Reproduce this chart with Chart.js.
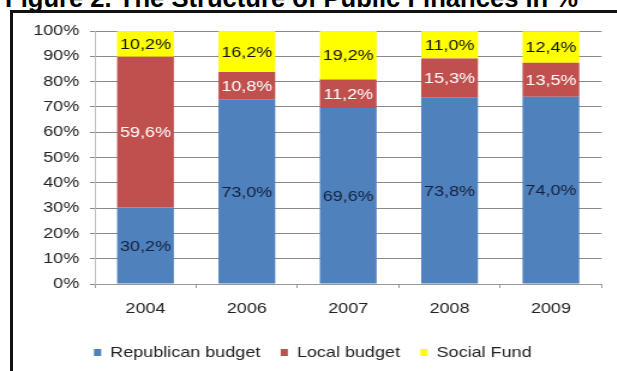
<!DOCTYPE html>
<html>
<head>
<meta charset="utf-8">
<script src="https://cdn.jsdelivr.net/npm/chart.js@4/dist/chart.umd.min.js"></script>
<style>
  html, body { margin: 0; padding: 0; background: #fff; }
  #wrap { position: relative; width: 617px; height: 371px; overflow: hidden; }
  #title {
    position: absolute; left: 5px; top: -14px; white-space: nowrap;
    font: bold 25.6px/25px "Liberation Sans", Arial, sans-serif; color: #000;
  }
  #frame {
    position: absolute; left: 10px; top: 10px; width: 700px; height: 400px;
    border-left: 3px solid #111; border-top: 3px solid #111;
  }
  /* the source picture is stretched sideways, so the chart is drawn narrow and widened */
  canvas { position: absolute; left: 0; top: 0; transform: scale(1.2, 1); transform-origin: 0 0; }
</style>
</head>
<body>
<div id="wrap">
  <div id="title">Figure 2. The Structure of Public Finances in %</div>
  <div id="frame"></div>
  <canvas id="chart" width="514" height="371"></canvas>
</div>
<script>
// ===== data =====
const years = ["2004", "2006", "2007", "2008", "2009"];
const republican = [30.2, 73.0, 69.6, 73.8, 74.0];
const local = [59.6, 10.8, 11.2, 15.3, 13.5];
const social = [10.2, 16.2, 19.2, 11.0, 12.4];
const yTicks = [0, 10, 20, 30, 40, 50, 60, 70, 80, 90, 100];

const FONT = "'Liberation Sans', Arial, sans-serif";

// labels centred in each stacked segment
const segmentLabels = {
  id: "segmentLabels",
  afterLayout(chart) {
    // legend sits a little right of centre in the source
    chart.legend.left += 10;
    chart.legend.right += 10;
  },
  afterDatasetsDraw(chart) {
    const ctx = chart.ctx;
    ctx.save();
    ctx.font = "15px " + FONT;
    ctx.textAlign = "center";
    ctx.textBaseline = "middle";
    chart.data.datasets.forEach((ds, i) => {
      chart.getDatasetMeta(i).data.forEach((bar, j) => {
        const y = (bar.y + bar.base) / 2;
        ctx.fillStyle = ds.labelColor;
        ctx.fillText(ds.data[j].toFixed(1).replace(".", ",") + "%", bar.x, y + 1);
      });
    });
    ctx.restore();
  }
};

new Chart(document.getElementById("chart"), {
  type: "bar",
  data: {
    labels: years,
    datasets: [
      { label: "Republican budget", data: republican, backgroundColor: "#4F81BD", labelColor: "#14213d" },
      { label: "Local budget", data: local, backgroundColor: "#C0504D", labelColor: "#ffffff" },
      { label: "Social Fund", data: social, backgroundColor: "#FFFF00", labelColor: "#111111" }
    ]
  },
  options: {
    responsive: false,
    animation: false,
    layout: { padding: { top: 31, right: 12.7, left: 0, bottom: 1 } },
    datasets: { bar: { categoryPercentage: 0.56, barPercentage: 1 } },
    plugins: {
      legend: {
        position: "bottom",
        labels: {
          boxWidth: 6, boxHeight: 7, padding: 17,
          color: "#222", font: { family: FONT, size: 15 }
        }
      },
      tooltip: { enabled: false }
    },
    scales: {
      x: {
        stacked: true,
        afterFit(s) { s.height -= 2; },
        grid: { offset: true, drawOnChartArea: false, tickLength: 4, color: "#999" },
        border: { color: "#999" },
        ticks: { color: "#222", padding: 12, font: { family: FONT, size: 15 } }
      },
      y: {
        stacked: true, min: 0, max: 100,
        afterFit(s) { s.width = 79; },
        afterBuildTicks(s) { s.ticks = yTicks.map(v => ({ value: v })); },
        grid: { color: "#8a8a8a", tickLength: 4 },
        border: { color: "#bbb" },
        ticks: {
          color: "#222", padding: 9, font: { family: FONT, size: 15 },
          callback: v => v + "%"
        }
      }
    }
  },
  plugins: [segmentLabels]
});
</script>
</body>
</html>
